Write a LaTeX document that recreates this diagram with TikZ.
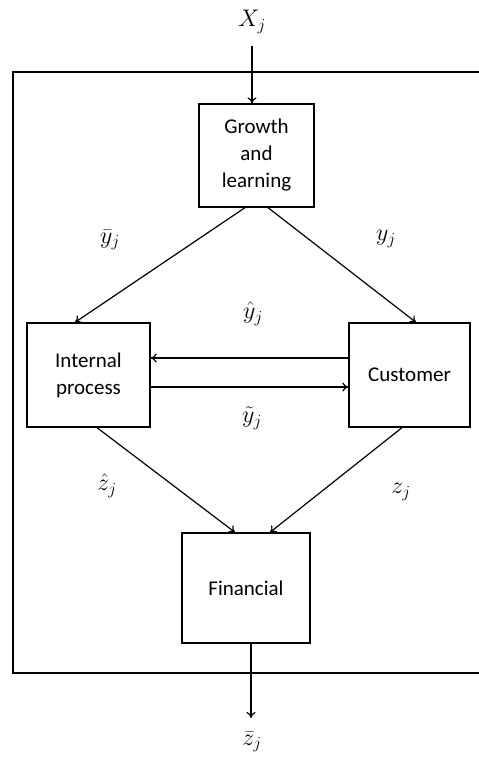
\documentclass[tikz,border=0pt]{standalone}
\usepackage{fix-cm}
\usepackage{fontspec}
\setmainfont{Carlito}
\usetikzlibrary{arrows.meta,calc}
\begin{document}
\begin{tikzpicture}[x=1pt,y=-1pt,
  box/.style={draw,line width=1.3pt,align=center,font=\fontsize{21}{27}\selectfont,inner sep=0pt},
  arr/.style={line width=1.2pt,-{To[length=6pt,width=9pt]}},
  lab/.style={font=\fontsize{24}{28}\selectfont,inner sep=0pt}]
\useasboundingbox (0,0) rectangle (479,758);
\draw[line width=1.3pt] (479,72) -- (13,72) -- (13,673) -- (479,673);
\node[box,minimum width=115pt,minimum height=103pt] (g) at (256.5,155.5) {Growth\\and\\learning};
\node[box,minimum width=123pt,minimum height=104pt] (ip) at (88.5,375) {Internal\\process};
\node[box,minimum width=121pt,minimum height=104pt] (cu) at (409.5,375) {Customer};
\node[box,minimum width=128pt,minimum height=110pt] (fi) at (246,588) {Financial};
\node[lab] (xj) at (252,22) {$X_j$};
\node[lab] (zb) at (252,742) {$\bar{z}_j$};
\coordinate (xin) at (252,46);
\coordinate (zout) at (251,718);
\node[lab] (lyb) at (110,240) {$\bar{y}_j$};
\node[lab] (ly) at (386,239) {$y_j$};
\node[lab] (lyh) at (253,314) {$\hat{y}_j$};
\node[lab] (lyt) at (252,418) {$\tilde{y}_j$};
\node[lab] (lzh) at (107,486) {$\hat{z}_j$};
\node[lab] (lz) at (401,492) {$z_j$};
\draw[arr] (xin) -- ($(g.north)+(-4.5,0)$);
\draw[arr] ($(g.south)+(-11.5,0)$) -- ($(ip.north)+(-13.5,0)$);
\draw[arr] ($(g.south)+(11.5,0)$) -- ($(cu.north)+(6.5,0)$);
\draw[arr] ($(cu.west)+(0,-17)$) -- ($(ip.east)+(0,-17)$);
\draw[arr] ($(ip.east)+(0,12)$) -- ($(cu.west)+(0,12)$);
\draw[arr] ($(ip.south)+(8.5,0)$) -- ($(fi.north)+(-11,0)$);
\draw[arr] ($(cu.south)+(-7.5,0)$) -- ($(fi.north)+(24,0)$);
\draw[arr] ($(fi.south)+(5,0)$) -- (zout);
\end{tikzpicture}
\end{document}
